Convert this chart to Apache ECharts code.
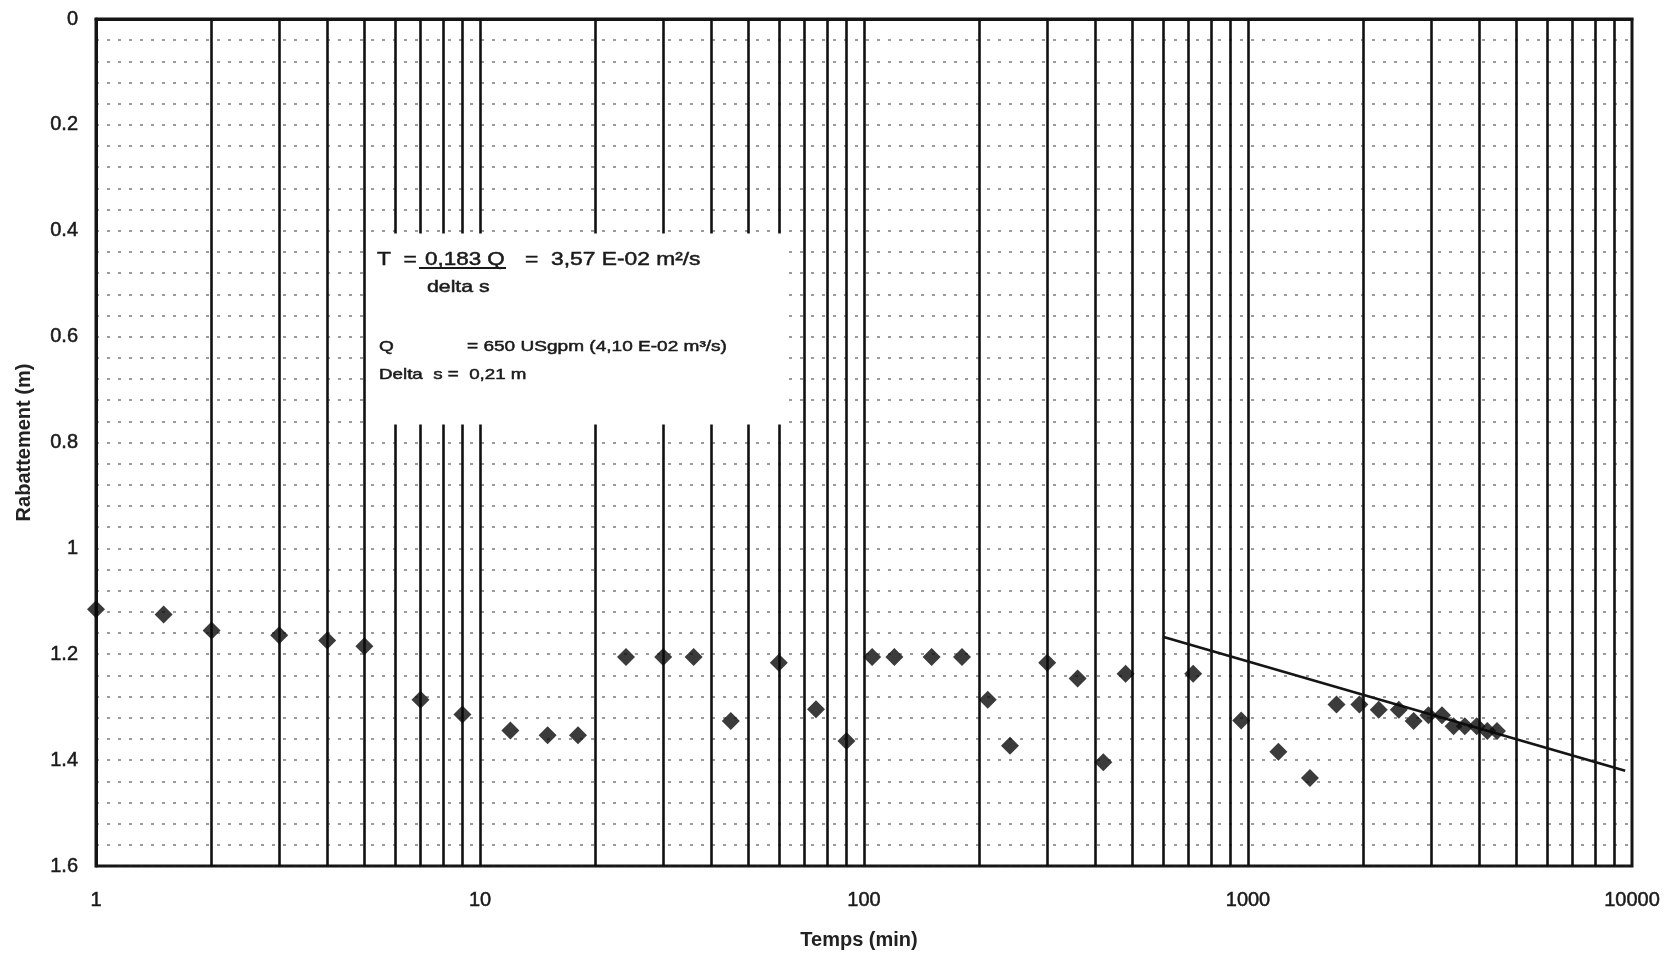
<!DOCTYPE html>
<html>
<head>
<meta charset="utf-8">
<script src="https://cdn.jsdelivr.net/npm/echarts@6/dist/echarts.min.js"></script>
<style>html,body{margin:0;padding:0;background:#fff;}#c{width:1667px;height:956px;}</style>
</head>
<body>
<div id="c"></div>
<script>
// Data
const timeMin = [1,1.5,2,3,4,5,7,9,12,15,18,24,30,36,45,60,75,90,105,120,150,180,210,240,300,360,420,480,720,960,1200,1450,1700,1950,2190,2470,2700,2950,3200,3430,3670,3940,4200,4450];
const drawdown = [1.115,1.125,1.155,1.164,1.174,1.185,1.286,1.314,1.344,1.353,1.353,1.205,1.205,1.205,1.326,1.216,1.304,1.364,1.205,1.205,1.205,1.205,1.286,1.373,1.216,1.246,1.404,1.237,1.237,1.325,1.384,1.434,1.295,1.295,1.305,1.305,1.326,1.315,1.315,1.336,1.336,1.336,1.345,1.345];
const trendTime = [600, 9600];
const trendDrawdown = [1.167, 1.42];
const decades = [1, 10, 100, 1000];
const xTickLabels = ['1','10','100','1000','10000'];
const yTickLabels = ['0','0.2','0.4','0.6','0.8','1','1.2','1.4','1.6'];

// log-paper vertical grid lines (2..9 of each decade + decades)
const vLines = [];
decades.forEach(d => { for (let k = 2; k <= 10; k++) { if (d * k < 10000) vLines.push(d * k); } });

const points = timeMin.map((t, i) => [t, drawdown[i]]);
const trend = trendTime.map((t, i) => [t, trendDrawdown[i]]);

const chart = echarts.init(document.getElementById('c'));
const font = 'Liberation Sans';
const ink = '#1a1a1a';
const hLine = { color: '#222', width: 1.6, type: [3, 8], opacity: 0.6 };
function txt(x, y, text, size, sx) {
  return { type: 'text', z: 100, x: x, y: y, scaleX: sx, silent: true,
    style: { text: text, fontFamily: font, fontSize: size, fill: ink, stroke: ink, lineWidth: 0.5,
      verticalAlign: 'middle', align: 'left' } };
}
chart.setOption({
  backgroundColor: '#fff',
  animation: false,
  grid: { left: 96, right: 35, top: 19, bottom: 90, show: true, borderColor: '#151515', borderWidth: 3, backgroundColor: 'transparent' },
  xAxis: {
    type: 'log', logBase: 10, min: 1, max: 10000,
    name: 'Temps (min)', nameLocation: 'middle', nameGap: 64,
    nameTextStyle: { fontFamily: font, fontSize: 20, fontWeight: 'bold', color: '#222', padding: [0, 10, 0, 0] },
    axisLine: { show: true, lineStyle: { color: '#151515', width: 3 } },
    axisTick: { show: false },
    splitLine: { show: false },
    minorSplitLine: { show: false },
    axisLabel: {
      margin: 24, fontFamily: font, fontSize: 20, color: ink, textBorderColor: ink, textBorderWidth: 0.5,
      formatter: v => xTickLabels[Math.round(Math.log10(v))]
    }
  },
  yAxis: {
    type: 'value', inverse: true, min: 0, max: 1.6, interval: 0.2,
    name: 'Rabattement (m)', nameLocation: 'middle', nameGap: 62,
    nameTextStyle: { fontFamily: font, fontSize: 20, fontWeight: 'bold', color: '#222' },
    axisLine: { show: true, lineStyle: { color: '#151515', width: 3 } },
    axisTick: { show: false },
    axisLabel: {
      margin: 18, fontFamily: font, fontSize: 20, color: ink, textBorderColor: ink, textBorderWidth: 0.5,
      formatter: (v) => yTickLabels[Math.round(v / 0.2)]
    },
    splitLine: { show: true, lineStyle: hLine },
    minorTick: { show: false, splitNumber: 5 },
    minorSplitLine: { show: true, lineStyle: hLine }
  },
  series: [
    {
      type: 'line', data: [], z: 1, silent: true,
      markLine: {
        z: 1, silent: true, symbol: 'none', animation: false,
        label: { show: false },
        emphasis: { disabled: true },
        lineStyle: { color: '#111', width: 2.6, type: 'solid' },
        data: vLines.map(v => ({ xAxis: v }))
      }
    },
    {
      type: 'line', data: [], z: 3, silent: true,
      markArea: {
        z: 3, silent: true,
        itemStyle: { color: '#fff', opacity: 1 },
        data: [[{ xAxis: 5.08, yAxis: 0.405 }, { xAxis: 61.3, yAxis: 0.766 }]]
      }
    },
    {
      type: 'line', data: trend, z: 4, symbol: 'none', silent: true,
      lineStyle: { color: '#151515', width: 2.6 }
    },
    {
      type: 'scatter', data: points, z: 5,
      symbol: 'diamond', symbolSize: [18, 18],
      itemStyle: { color: '#0a0a0a' }
    }
  ],
  graphic: [
    txt(377, 260, 'T  =', 19, 1.2),
    txt(425, 260, '0,183 Q', 19, 1.18),
    { type: 'line', z: 100, silent: true, shape: { x1: 419, y1: 268, x2: 506, y2: 268 }, style: { stroke: ink, lineWidth: 1.8 } },
    txt(525, 260, '=  3,57 E-02 m²/s', 19, 1.2),
    txt(427, 287, 'delta s', 17, 1.25),
    txt(379, 347, 'Q', 15, 1.27),
    txt(467, 347, '= 650 USgpm (4,10 E-02 m³/s)', 15, 1.27),
    txt(379, 375, 'Delta  s =  0,21 m', 15, 1.25)
  ]
});
</script>
</body>
</html>
